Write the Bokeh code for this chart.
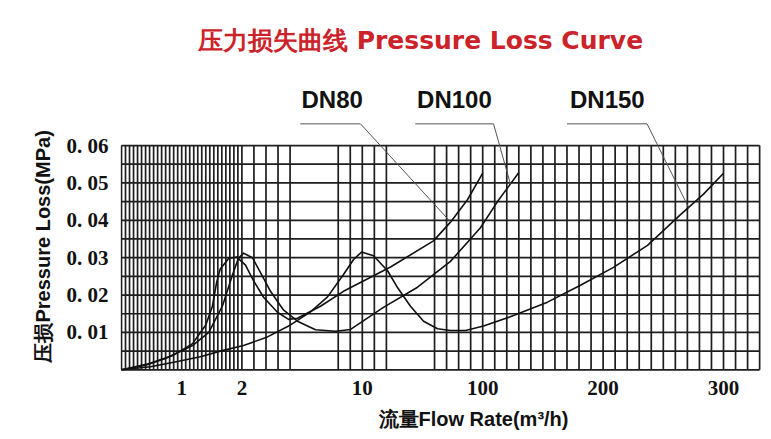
import numpy as np
from bokeh.plotting import figure
from bokeh.models import Range1d, FixedTicker, Title
from bokeh.core.properties import value
from bokeh.embed import file_html
from bokeh.resources import INLINE

# ---------------- data ----------------
TITLE = "压力损失曲线 Pressure Loss Curve"
X_LABEL = "流量Flow Rate(m³/h)"
Y_LABEL = "压损Pressure Loss(MPa)"

# the flow axis is non-uniform: these flows sit at the axis break points
AXIS_FLOW = [0, 1, 2, 10, 100, 200, 300]
X_TICK_FLOWS = [1, 2, 10, 100, 200, 300]
X_TICK_LABELS = ["1", "2", "10", "100", "200", "300"]
Y_TICKS = [0.01, 0.02, 0.03, 0.04, 0.05, 0.06]
Y_TICK_LABELS = ["0. 01", "0. 02", "0. 03", "0. 04", "0. 05", "0. 06"]

SERIES = ["DN80", "DN100", "DN150"]

DN80_FLOW = [0, 0.45, 0.85, 1.18, 1.40, 1.51, 1.58, 1.64, 1.78, 1.91, 2.24, 2.75,
             3.44, 4.36, 5.10, 5.69, 7.22, 8.75, 31.1, 63.2, 75.9, 88.6, 100]
DN80_LOSS = [0, 0.0016, 0.0038, 0.0070, 0.0120, 0.0170, 0.0234, 0.0270, 0.0298, 0.0302,
             0.0280, 0.0240, 0.0194, 0.0154, 0.0135, 0.0138, 0.0170, 0.0210, 0.0275,
             0.0345, 0.0395, 0.0455, 0.0526]

DN100_FLOW = [0, 0.40, 0.73, 1.18, 1.45, 1.68, 1.84, 1.94, 2.11, 2.70, 3.37, 3.90,
              4.76, 5.69, 6.89, 8.22, 9.22, 25.8, 51.3, 75.9, 98.3, 112.3, 130]
DN100_LOSS = [0, 0.0012, 0.0030, 0.0065, 0.0100, 0.0172, 0.0252, 0.0298, 0.0312,
              0.0300, 0.0250, 0.0210, 0.0160, 0.0130, 0.0107, 0.0103, 0.0108, 0.0167,
              0.0221, 0.0290, 0.0380, 0.0450, 0.0528]

DN150_FLOW = [0, 0.48, 0.93, 1.31, 1.64, 2.11, 3.70, 5.23, 6.56, 7.69, 8.75, 9.42,
              9.95, 18.4, 28.9, 36.3, 46.0, 55.8, 66.2, 75.9, 87.1, 100.7, 125.6,
              153.8, 181.2, 208.6, 236.9, 264.3, 283.4, 300]
DN150_LOSS = [0, 0.0008, 0.0022, 0.0035, 0.0050, 0.0065, 0.0088, 0.0120, 0.0155,
              0.0195, 0.0255, 0.0295, 0.0315, 0.0305, 0.0265, 0.0220, 0.0170, 0.0130,
              0.0110, 0.0105, 0.0105, 0.0117, 0.0145, 0.0181, 0.0226, 0.0274, 0.0333,
              0.0415, 0.0470, 0.0526]

# flow at which each label's leader line touches its curve
LEADER_FLOW = [76, 123, 271]

# ---------------- layout ----------------
AXIS_POS = [0, 1, 2, 4, 6, 8, 10]          # axis position of each AXIS_FLOW


def to_pos(flow):
    return np.interp(np.asarray(flow, dtype=float), AXIS_FLOW, AXIS_POS)


X_RIGHT = 10.6
Y_TOP = 0.06
LABEL_X = [3.50, 5.53, 8.07]
LABEL_Y = 0.0723
UNDER_X0 = [2.97, 4.88, 7.40]
UNDER_X1 = [3.97, 6.18, 8.73]
UNDER_Y = 0.0658

# grid lattice (axis positions)
grid_x = list(np.linspace(0, 2, 31)) + [2.2, 2.4, 2.6, 2.8] + [3.6, 3.8, 4.0, 4.2, 4.4] \
    + list(np.round(np.arange(5.2, X_RIGHT + 0.01, 0.2), 3))
grid_y = list(np.round(np.arange(0, Y_TOP + 0.0001, 0.005), 4))

p = figure(width=771, height=439,
           x_range=Range1d(-0.0166, 10.631), y_range=Range1d(-0.000455, 0.0988),
           output_backend="svg", toolbar_location=None,
           min_border_left=120, min_border_right=10, min_border_top=0, min_border_bottom=68)
p.grid.visible = False
p.outline_line_color = None
p.background_fill_color = "white"
p.border_fill_color = "white"

GRID_COLOR = "#1e1e1e"
p.segment(x0=grid_x, x1=grid_x, y0=[0] * len(grid_x), y1=[Y_TOP] * len(grid_x),
          line_color=GRID_COLOR, line_width=1.7)
p.segment(x0=[0] * len(grid_y), x1=[X_RIGHT] * len(grid_y), y0=grid_y, y1=grid_y,
          line_color=GRID_COLOR, line_width=1.7)

curves = [(DN80_FLOW, DN80_LOSS), (DN100_FLOW, DN100_LOSS), (DN150_FLOW, DN150_LOSS)]
for flow, loss in curves:
    p.line(x=to_pos(flow), y=loss, line_color="#111111", line_width=1.6,
           line_join="round")

# leader lines from labels to curves
lx, ly = [], []
for i, (flow, loss) in enumerate(curves):
    ex = float(to_pos(LEADER_FLOW[i]))
    ey = float(np.interp(LEADER_FLOW[i], flow, loss))
    lx.append([UNDER_X0[i], UNDER_X1[i], ex])
    ly.append([UNDER_Y, UNDER_Y, ey])
p.multi_line(xs=lx, ys=ly, line_color="#555555", line_width=1)

p.text(x=LABEL_X, y=[LABEL_Y] * 3, text=SERIES, text_font=value("Liberation Sans"),
       text_font_style="bold", text_font_size="24px", text_align="center",
       text_baseline="middle", text_color="#111111")

p.text(x=[4.967], y=[0.0881], text=[TITLE], text_font=value("DejaVu Sans"),
       text_font_style="bold", text_font_size="25px", text_align="center",
       text_baseline="middle", text_color="#cc2229")

# axes
tick_pos = [float(v) for v in to_pos(X_TICK_FLOWS)]
p.xaxis.ticker = FixedTicker(ticks=tick_pos)
p.xaxis.major_label_overrides = {t: l for t, l in zip(tick_pos, X_TICK_LABELS)}
p.yaxis.ticker = FixedTicker(ticks=Y_TICKS)
p.yaxis.major_label_overrides = {t: l for t, l in zip(Y_TICKS, Y_TICK_LABELS)}
for ax in (p.xaxis, p.yaxis):
    ax.axis_line_color = None
    ax.major_tick_line_color = None
    ax.minor_tick_line_color = None
    ax.major_label_text_font = "Liberation Serif"
    ax.major_label_text_font_style = "bold"
    ax.major_label_text_font_size = "21px"
    ax.major_label_text_color = "#111111"
p.xaxis.major_label_standoff = 3
p.yaxis.major_label_standoff = 6

xt = Title(text=X_LABEL, align="left", offset=258, text_font="Liberation Sans",
           text_font_style="bold", text_font_size="20px", text_color="#111111", standoff=17)
p.add_layout(xt, "below")
yt = Title(text=Y_LABEL, align="left", offset=9, text_font="Liberation Sans",
           text_font_style="bold", text_font_size="20px", text_color="#111111", standoff=19)
p.add_layout(yt, "left")

open("out.html", "w").write(file_html(p, INLINE))
